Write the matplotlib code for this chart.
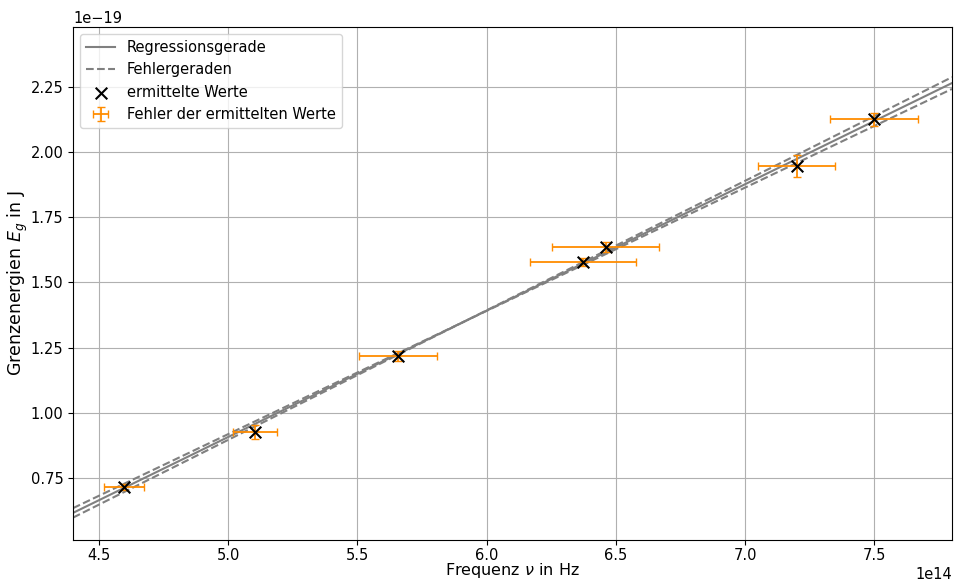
import numpy as np
import matplotlib.pyplot as plt

plt.rcParams['font.family'] = ['DejaVu Sans']
plt.rcParams['font.size'] = 10.5

# Messwerte (Frequenz in Hz, Grenzenergie in J)
freq = np.array([4.597, 5.105, 5.657, 6.374, 6.461, 7.200, 7.498]) * 1e14
energy = np.array([0.7155, 0.926, 1.218, 1.5785, 1.636, 1.947, 2.127]) * 1e-19
freq_err = np.array([0.078, 0.085, 0.151, 0.205, 0.207, 0.149, 0.169]) * 1e14
energy_err = np.array([0.012, 0.027, 0.020, 0.015, 0.018, 0.042, 0.025]) * 1e-19

# Regression E = a*f + b
a, b = 4.85e-34, -1.518e-19
# Fehlergeraden: Steigung a +- da, Achsenabschnitt b -+ db
da, db = 1.2e-35, 7.1e-21

f_line = np.linspace(4.4e14, 7.8e14, 200)

fig, ax = plt.subplots(figsize=(9.56, 5.82), dpi=100)
ax.grid(True, zorder=0)
ax.set_axisbelow(True)
ax.plot(f_line, a * f_line + b, color='gray', label='Regressionsgerade')
ax.plot(f_line, (a + da) * f_line + (b - db), color='gray', linestyle='--', label='Fehlergeraden')
ax.plot(f_line, (a - da) * f_line + (b + db), color='gray', linestyle='--')
ax.scatter(freq, energy, marker='x', color='black', s=70, zorder=4, label='ermittelte Werte')
ax.errorbar(freq, energy, xerr=freq_err, yerr=energy_err, fmt='none', ecolor='darkorange',
            capsize=3, elinewidth=1.3, zorder=3, label='Fehler der ermittelten Werte')

ax.set_xlim(4.4e14, 7.8e14)
ax.set_ylim(0.512e-19, 2.48e-19)
ax.tick_params(axis='x', pad=2.5)
ax.set_xlabel(r'Frequenz $\nu$ in Hz', fontsize=11.5, labelpad=-1.5)
ax.set_ylabel(r'Grenzenergien $E_g$ in J', fontsize=12.5, labelpad=0)
ax.legend(loc='upper left', fontsize=10.5)

fig.subplots_adjust(left=0.0764, right=0.9958, top=0.9536, bottom=0.0722)
fig.savefig('out.png')
